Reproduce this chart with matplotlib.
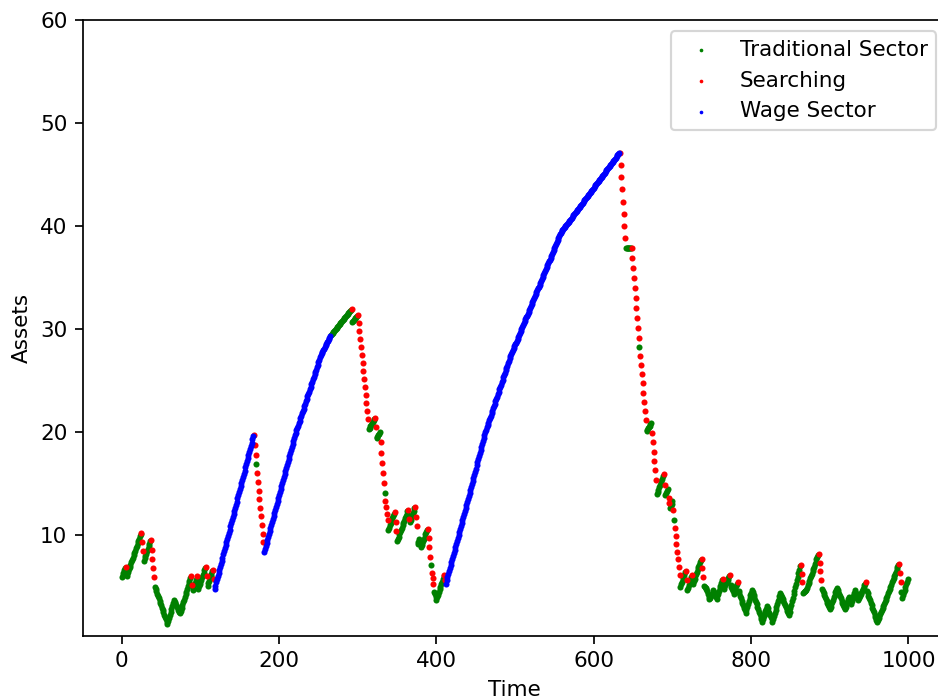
import matplotlib.pyplot as plt
import numpy as np

# asset path of the household: value at each knot, and the sector it sits in
# from that knot up to the next one (T = traditional, S = searching, W = wage)
knot_t = [
    0, 4, 5, 6, 24, 25, 27, 28, 36, 37, 41, 42, 58, 66, 74, 87, 88, 89, 90, 95,
    96, 97, 106, 107, 108, 109, 115, 116, 117,
    118, 167, 168, 170, 171, 172, 180,
    181, 220, 253, 265, 266, 291, 292, 293, 299, 300, 313, 314, 321, 322, 323,
    324, 328, 329, 333, 334, 335, 338, 339, 346, 347, 349, 350, 363, 364, 365,
    366, 372, 373, 375, 376, 378, 380, 388, 389, 392, 393, 394, 396, 397, 400,
    409, 410, 411,
    412, 462, 494, 558, 632,
    633, 640, 641, 647, 648, 657, 658, 659, 666, 667, 673, 674, 679, 680, 688,
    689, 690, 691, 694, 695, 697, 700, 701, 702, 703, 709, 710, 716, 717, 718,
    719, 724, 725, 726, 736, 737, 739, 740, 743, 747, 752, 756, 763, 764, 765,
    772, 773, 774, 778, 782, 783, 784, 793, 801, 814, 820, 827, 837, 848, 862,
    863, 865, 866, 870, 885, 886, 889, 890, 900, 909, 919, 924, 927, 932, 936,
    945, 946, 947, 960, 966, 971, 987, 988, 990, 991, 992, 999,
]
knot_assets = [
    5.9, 6.8, 6.9, 6.0, 10.1, 10.25, 8.45, 7.5, 9.4, 9.5, 5.9, 5.0, 1.35, 3.7,
    2.4, 5.85, 6.0, 5.2, 4.65, 5.85, 6.0, 4.8, 6.8, 6.9, 6.0, 5.1, 6.5, 6.6, 5.7,
    4.8, 19.6, 19.7, 17.8, 16.9, 16.0, 9.3,
    8.4, 19.7, 27.5, 29.35, 29.45, 31.9, 31.95, 30.7, 31.3, 31.4, 21.3, 20.3,
    21.3, 21.4, 20.5, 19.4, 20.0, 19.0, 15.1, 14.1, 13.3, 11.5, 10.5, 12.1, 12.2,
    10.4, 9.4, 12.3, 12.4, 11.6, 11.3, 12.6, 12.7, 10.9, 9.1, 9.6, 8.8, 10.5,
    10.6, 7.9, 7.1, 6.3, 5.3, 4.5, 3.7, 6.0, 6.1, 5.6,
    5.3, 20.0, 27.4, 39.4, 47.1,
    47.1, 38.9, 37.9, 37.9, 37.9, 29.2, 28.3, 27.4, 21.2, 20.1, 20.9, 19.9, 15.4,
    14.0, 15.7, 15.9, 14.9, 13.9, 14.5, 13.6, 12.6, 13.3, 12.4, 11.5, 10.7, 6.1,
    5.0, 6.4, 6.5, 5.6, 4.65, 5.9, 6.1, 5.3, 7.6, 7.7, 5.9, 5.1, 4.8, 3.75, 4.7,
    3.8, 5.6, 5.7, 4.8, 6.0, 6.1, 5.2, 4.3, 5.3, 5.4, 4.6, 2.45, 4.7, 1.6, 3.1,
    1.6, 4.4, 2.2, 7.0, 7.1, 5.4, 4.4, 4.65, 8.1, 8.2, 5.6, 4.8, 2.8, 4.9, 2.8,
    4.0, 3.35, 4.65, 3.7, 5.3, 5.4, 4.6, 1.57, 2.7, 3.7, 7.1, 7.2, 5.4, 4.5, 3.9,
    5.75,
]
knot_state = [
    'T', 'T', 'S', 'T', 'T', 'S', 'S', 'T', 'T', 'S', 'S', 'T', 'T', 'T', 'T',
    'T', 'S', 'S', 'T', 'T', 'S', 'T', 'T', 'S', 'S', 'T', 'T', 'S', 'S',
    'W', 'W', 'S', 'S', 'T', 'S', 'S',
    'W', 'W', 'W', 'W', 'T', 'T', 'S', 'T', 'T', 'S', 'S', 'T', 'T', 'S', 'S',
    'T', 'T', 'S', 'S', 'T', 'S', 'S', 'T', 'T', 'S', 'S', 'T', 'T', 'S', 'S',
    'T', 'T', 'S', 'S', 'T', 'T', 'T', 'T', 'S', 'S', 'T', 'S', 'S', 'T', 'T',
    'T', 'S', 'S',
    'W', 'W', 'W', 'W', 'W',
    'S', 'S', 'T', 'T', 'S', 'S', 'T', 'S', 'S', 'T', 'T', 'S', 'S', 'T', 'T',
    'S', 'S', 'T', 'T', 'S', 'T', 'T', 'S', 'T', 'S', 'S', 'T', 'T', 'S', 'S',
    'T', 'T', 'S', 'T', 'T', 'S', 'S', 'T', 'T', 'T', 'T', 'T', 'T', 'S', 'T',
    'T', 'S', 'T', 'T', 'T', 'S', 'T', 'T', 'T', 'T', 'T', 'T', 'T', 'T', 'T',
    'S', 'S', 'T', 'T', 'T', 'S', 'S', 'T', 'T', 'T', 'T', 'T', 'T', 'T', 'T',
    'T', 'S', 'T', 'T', 'T', 'T', 'T', 'S', 'S', 'T', 'T', 'T',
]

sectors = ['T', 'S', 'W']
sector_labels = ['Traditional Sector', 'Searching', 'Wage Sector']
sector_colors = ['green', 'red', 'blue']

# one observation per period
time = np.arange(1000)
assets = np.interp(time, knot_t, knot_assets)
idx = np.searchsorted(knot_t, time, side='right') - 1
state = np.array(knot_state)[idx]

dpi = 155
fig = plt.figure(figsize=(939 / dpi, 700 / dpi), dpi=dpi)
ax = fig.add_axes([82.5 / 939, 64 / 700, 864.5 / 939, 615.5 / 700])

for code, label, color in zip(sectors, sector_labels, sector_colors):
    mask = state == code
    ax.scatter(time[mask], assets[mask], s=8, c=color, linewidths=0, label=label)

ax.set_ylim(0.2, 60)
ax.set_xlabel('Time')
ax.set_ylabel('Assets')
ax.legend(loc='upper right', markerscale=0.6)

fig.savefig('out.png', dpi=dpi)
